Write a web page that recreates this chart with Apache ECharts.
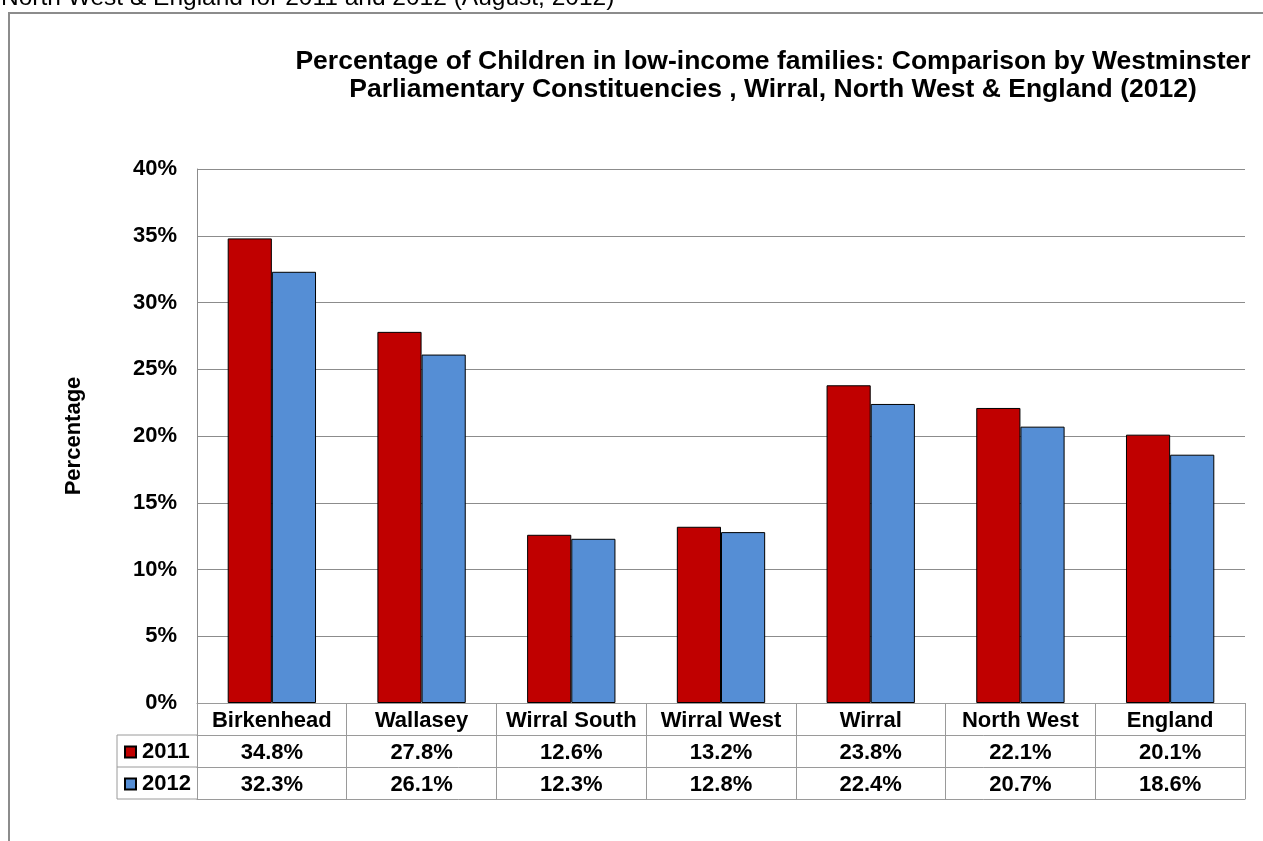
<!DOCTYPE html>
<html><head><meta charset="utf-8">
<script src="https://cdn.jsdelivr.net/npm/echarts@6/dist/echarts.min.js"></script>
<style>html,body{margin:0;padding:0;background:#fff}#c{width:1263px;height:841px}</style>
</head><body><div id="c"></div>
<script>
var categories = ['Birkenhead','Wallasey','Wirral South','Wirral West','Wirral','North West','England'];
var values2011 = [34.8,27.8,12.6,13.2,23.8,22.1,20.1];
var values2012 = [32.3,26.1,12.3,12.8,22.4,20.7,18.6];
var seriesNames = ['2011','2012'];
var yTicks = [0,5,10,15,20,25,30,35,40];

var FONT = 'Liberation Sans, Arial, sans-serif';
var GL = 197, GR = 18, GT = 169, GB = 138;
var H = 841, axisY = H - GB;
var tableGray = '#9a9a9a';
var FS = 22;

var chart = echarts.init(document.getElementById('c'));
function fmt(v){ return v.toFixed(1) + '%'; }
var labelStyle = {interval: 0, margin: 7, color: '#000', fontFamily: FONT, fontWeight: 'bold', fontSize: FS};
var option = {
  backgroundColor: '#fff',
  animation: false,
  title: {
    text: 'Percentage of Children in low-income families: Comparison by Westminster\nParliamentary Constituencies , Wirral, North West & England (2012)',
    left: 768, top: 43, textAlign: 'center',
    textStyle: {fontFamily: FONT, fontWeight: 'bold', fontSize: 26.5, lineHeight: 28, color: '#000'}
  },
  legend: {
    data: seriesNames, orient: 'vertical', left: 124, top: 741, padding: 0,
    itemWidth: 11, itemHeight: 11, itemGap: 10, icon: 'rect',
    textStyle: {fontFamily: FONT, fontWeight: 'bold', fontSize: FS, color: '#000', lineHeight: 22, padding: [0,0,0,1]}
  },
  grid: {left: GL, right: GR, top: GT, bottom: GB},
  xAxis: [
    {type: 'category', data: categories, position: 'bottom',
     axisLine: {lineStyle: {color: tableGray}},
     axisTick: {show: true, interval: 0, length: 96, lineStyle: {color: tableGray}},
     axisLabel: labelStyle},
    {type: 'category', data: categories, position: 'bottom', offset: 32,
     axisLine: {lineStyle: {color: tableGray}}, axisTick: {show: false},
     axisLabel: Object.assign({}, labelStyle, {formatter: function(v, i){ return fmt(values2011[i]); }})},
    {type: 'category', data: categories, position: 'bottom', offset: 64,
     axisLine: {lineStyle: {color: tableGray}}, axisTick: {show: false},
     axisLabel: Object.assign({}, labelStyle, {formatter: function(v, i){ return fmt(values2012[i]); }})},
    {type: 'category', data: categories, position: 'bottom', offset: 96,
     axisLine: {lineStyle: {color: tableGray}}, axisTick: {show: false}, axisLabel: {show: false}}
  ],
  yAxis: {
    type: 'value', min: yTicks[0], max: yTicks[yTicks.length-1], interval: 5,
    name: 'Percentage', nameLocation: 'middle', nameGap: 112, nameRotate: 90,
    nameTextStyle: {fontFamily: FONT, fontWeight: 'bold', fontSize: FS, color: '#000'},
    axisLine: {show: true, lineStyle: {color: '#8c8c8c'}},
    axisTick: {show: false},
    splitLine: {lineStyle: {color: '#8c8c8c', width: 1}},
    axisLabel: {formatter: '{value}%', margin: 20, color: '#000', fontFamily: FONT, fontWeight: 'bold', fontSize: FS}
  },
  series: [
    {name: seriesNames[0], type: 'bar', xAxisIndex: 0, data: values2011, barGap: '0%', barCategoryGap: '41%',
     itemStyle: {color: '#C00000', borderColor: '#000', borderWidth: 1}},
    {name: seriesNames[1], type: 'bar', xAxisIndex: 0, data: values2012, barGap: '0%', barCategoryGap: '41%',
     itemStyle: {color: '#558ED5', borderColor: '#000', borderWidth: 1}}
  ],
  graphic: [
    {type: 'text', left: 1, top: -14, style: {text: 'North West & England for 2011 and 2012 (August, 2012)', fontFamily: FONT, fontSize: 24.5, fill: '#000'}},
    {type: 'rect', shape: {x: 9, y: 13, width: 1400, height: 1000}, style: {fill: 'none', stroke: '#8c8c8c', lineWidth: 2}, silent: true},
    {type: 'line', shape: {x1: 117, y1: axisY + 32, x2: GL, y2: axisY + 32}, style: {stroke: tableGray, lineWidth: 1}},
    {type: 'line', shape: {x1: 117, y1: axisY + 64, x2: GL, y2: axisY + 64}, style: {stroke: tableGray, lineWidth: 1}},
    {type: 'line', shape: {x1: 117, y1: axisY + 96, x2: GL, y2: axisY + 96}, style: {stroke: tableGray, lineWidth: 1}},
    {type: 'line', shape: {x1: 117, y1: axisY + 32, x2: 117, y2: axisY + 96}, style: {stroke: tableGray, lineWidth: 1}}
  ]
};
chart.setOption(option);
</script></body></html>
